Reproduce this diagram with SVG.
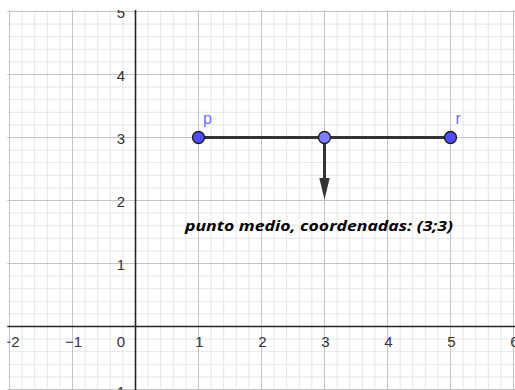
<svg xmlns="http://www.w3.org/2000/svg" width="515" height="390" viewBox="0 0 515 390">
  <style>
    .minor { stroke: #e6e6e6; stroke-width: 1; fill: none; }
    .major { stroke: #c4c4c4; stroke-width: 1; fill: none; }
    .axis { stroke: #252525; stroke-width: 1.6; fill: none; }
    .tick { font-family: "Liberation Sans", Arial, sans-serif; font-size: 15px; fill: #333333; }
    .pt { stroke: #1a1a1a; stroke-width: 1.3; }
    .ptlabel { font-family: "Liberation Sans", Arial, sans-serif; font-size: 16px; fill: #6f6fff; }
    .seg { stroke: #333333; stroke-width: 3; fill: none; }
  </style>
  <defs>
    <clipPath id="area"><rect x="7.3" y="10" width="508" height="380"/></clipPath>
  </defs>
  <rect x="0" y="0" width="515" height="390" fill="#ffffff"/>
  <g id="grid" clip-path="url(#area)">
    <path class="minor" d="M22.1 0V390M34.7 0V390M47.3 0V390M59.9 0V390M85.1 0V390M97.7 0V390M110.3 0V390M122.9 0V390M148.1 0V390M160.7 0V390M173.3 0V390M185.9 0V390M211.1 0V390M223.7 0V390M236.3 0V390M248.9 0V390M274.1 0V390M286.7 0V390M299.3 0V390M311.9 0V390M337.1 0V390M349.7 0V390M362.3 0V390M374.9 0V390M400.1 0V390M412.7 0V390M425.3 0V390M437.9 0V390M463.1 0V390M475.7 0V390M488.3 0V390M500.9 0V390
      M0 376.9H515M0 364.3H515M0 351.7H515M0 339.1H515M0 313.9H515M0 301.3H515M0 288.7H515M0 276.1H515M0 250.9H515M0 238.3H515M0 225.7H515M0 213.1H515M0 187.9H515M0 175.3H515M0 162.7H515M0 150.1H515M0 124.9H515M0 112.3H515M0 99.7H515M0 87.1H515M0 61.9H515M0 49.3H515M0 36.7H515M0 24.1H515"/>
    <path class="major" d="M9.5 0V390M72.5 0V390M198.5 0V390M261.5 0V390M324.5 0V390M387.5 0V390M450.5 0V390M513.5 0V390
      M0 389.5H515M0 263.5H515M0 200.5H515M0 137.5H515M0 74.5H515M0 11.5H515"/>
    <path class="axis" d="M135.5 0V390M0 326.5H515"/>
    <g id="ticks">
      <text class="tick" x="11" y="346.5" text-anchor="middle">−2</text>
      <text class="tick" x="73.5" y="346.5" text-anchor="middle">−1</text>
      <text class="tick" x="125" y="346.5" text-anchor="end">0</text>
      <text class="tick" x="199.5" y="346.5" text-anchor="middle">1</text>
      <text class="tick" x="262.5" y="346.5" text-anchor="middle">2</text>
      <text class="tick" x="325.5" y="346.5" text-anchor="middle">3</text>
      <text class="tick" x="388.5" y="346.5" text-anchor="middle">4</text>
      <text class="tick" x="451.5" y="346.5" text-anchor="middle">5</text>
      <text class="tick" x="514.5" y="346.5" text-anchor="middle">6</text>
      <text class="tick" x="125" y="396.5" text-anchor="end">−1</text>
      <text class="tick" x="125" y="269.5" text-anchor="end">1</text>
      <text class="tick" x="125" y="206.5" text-anchor="end">2</text>
      <text class="tick" x="125" y="143.5" text-anchor="end">3</text>
      <text class="tick" x="125" y="80.5" text-anchor="end">4</text>
      <text class="tick" x="125" y="17.5" text-anchor="end">5</text>
    </g>
  </g>
  <g id="connectors">
    <line class="seg" x1="198.5" y1="137.5" x2="450.5" y2="137.5"/>
    <line class="seg" x1="324.5" y1="137.5" x2="324.5" y2="180" stroke-width="2.6"/>
    <polygon points="319.3,178 329.7,178 324.5,199.5" fill="#333333"/>
  </g>
  <g id="p">
    <circle class="pt" cx="198.5" cy="137.5" r="6" fill="#4d4dff"/>
    <text class="ptlabel" x="203" y="124">p</text>
  </g>
  <g id="m">
    <circle class="pt" cx="324.5" cy="137.5" r="6" fill="#7f7fff"/>
  </g>
  <g id="r">
    <circle class="pt" cx="450.5" cy="137.5" r="6" fill="#4d4dff"/>
    <text class="ptlabel" x="455.5" y="124">r</text>
  </g>
  <g id="label">
    <text x="185" y="231" font-family="'Open Sans', 'DejaVu Sans', sans-serif" font-size="14" font-weight="bold" font-style="italic" fill="#000000" textLength="268" lengthAdjust="spacingAndGlyphs">punto medio, coordenadas: (3;3)</text>
  </g>
</svg>
